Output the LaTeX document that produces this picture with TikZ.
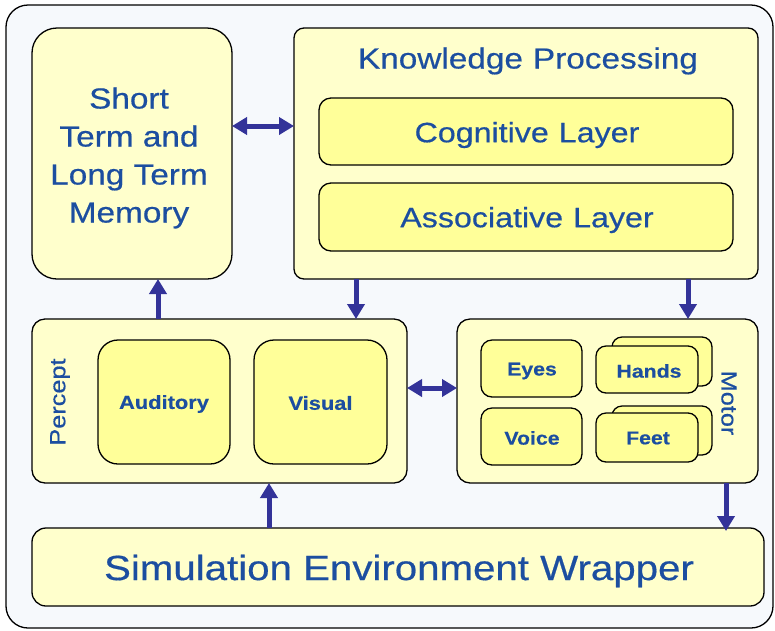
\documentclass[tikz,border=0pt]{standalone}
\usepackage{fontspec}
\setmainfont[FakeStretch=1.15,FakeBold=0.5]{Liberation Sans}
\usetikzlibrary{arrows.meta}
\definecolor{txtblue}{RGB}{28,78,160}
\definecolor{arrblue}{RGB}{51,51,153}
\definecolor{paleyel}{RGB}{255,255,204}
\definecolor{brightyel}{RGB}{255,255,153}
\definecolor{framebg}{RGB}{246,249,252}
\tikzset{
  box/.style={draw=black, line width=1.3pt, inner sep=0pt, outer sep=0pt},
  outerbox/.style={box, fill=paleyel},
  innerbox/.style={box, fill=brightyel},
  lbl/.style={text=txtblue, align=center, inner sep=0pt},
  arr/.style={draw=arrblue, line width=5pt, -{Triangle[length=15pt,width=17pt]}},
  darr/.style={draw=arrblue, line width=5pt, {Triangle[length=15pt,width=17pt]}-{Triangle[length=15pt,width=17pt]}},
}
\begin{document}
\begin{tikzpicture}[x=1pt,y=-1pt]
\useasboundingbox (0,0) rectangle (775,630);
% outer frame
\draw[line width=1.3pt, fill=framebg, rounded corners=22pt] (6,5) rectangle (773,628);

% memory
\node[outerbox, rounded corners=25pt, minimum width=200pt, minimum height=251pt] (mem) at (132,153.5) {};
\node[lbl, font=\fontsize{29}{38}\selectfont] (memt) at (129,158) {Short\\Term and\\Long Term\\Memory};

% knowledge processing
\node[outerbox, rounded corners=10pt, minimum width=464pt, minimum height=251pt] (kp) at (526,153.5) {};
\node[lbl, font=\fontsize{29}{34}\selectfont] (kpt) at (528,61) {Knowledge\hspace{10pt}Processing};
\node[innerbox, rounded corners=12pt, minimum width=414pt, minimum height=67pt] (cog) at (526,131.5) {};
\node[lbl, font=\fontsize{28}{34}\selectfont] (cogt) at (527,135) {Cognitive\hspace{10pt}Layer};
\node[innerbox, rounded corners=12pt, minimum width=414pt, minimum height=68pt] (assoc) at (526,217) {};
\node[lbl, font=\fontsize{28}{34}\selectfont] (assoct) at (527,220) {Associative\hspace{10pt}Layer};

% percept
\node[outerbox, rounded corners=13pt, minimum width=375pt, minimum height=164pt] (percept) at (219.5,401) {};
\node[lbl, rotate=90, font=\fontsize{22}{26}\selectfont] (perceptt) at (60,402) {Percept};
\node[innerbox, rounded corners=20pt, minimum width=132pt, minimum height=124pt] (aud) at (164,402) {};
\node[lbl, font=\bfseries\fontsize{19}{23}\selectfont] (audt) at (164,404) {Auditory};
\node[innerbox, rounded corners=20pt, minimum width=133pt, minimum height=124pt] (vis) at (320.5,402) {};
\node[lbl, font=\bfseries\fontsize{19}{23}\selectfont] (vist) at (320.5,403) {Visual};

% motor
\node[outerbox, rounded corners=13pt, minimum width=301pt, minimum height=164pt] (motor) at (607.5,401) {};
\node[lbl, rotate=-90, font=\fontsize{22}{26}\selectfont] (motort) at (729,403) {Motor};
\node[innerbox, rounded corners=11pt, minimum width=101pt, minimum height=57pt] (eyes) at (531.5,368.5) {};
\node[lbl, font=\bfseries\fontsize{18.5}{22}\selectfont] (eyest) at (532,371) {Eyes};
\node[innerbox, rounded corners=11pt, minimum width=101pt, minimum height=57pt] (voice) at (531.5,436.5) {};
\node[lbl, font=\bfseries\fontsize{18.5}{22}\selectfont] (voicet) at (532,438) {Voice};
\node[innerbox, rounded corners=10pt, minimum width=100pt, minimum height=49pt] (handsb) at (662,361.5) {};
\node[innerbox, rounded corners=10pt, minimum width=102pt, minimum height=47pt] (hands) at (647,369.5) {};
\node[lbl, font=\bfseries\fontsize{18.5}{22}\selectfont] (handst) at (649,371) {Hands};
\node[innerbox, rounded corners=10pt, minimum width=100pt, minimum height=49pt] (feetb) at (662,430.5) {};
\node[innerbox, rounded corners=10pt, minimum width=102pt, minimum height=49pt] (feet) at (647,437.5) {};
\node[lbl, font=\bfseries\fontsize{18.5}{22}\selectfont] (feett) at (648,438) {Feet};

% simulation
\node[outerbox, rounded corners=14pt, minimum width=732pt, minimum height=78pt] (sim) at (398,567) {};
\node[lbl, font=\fontsize{35}{40}\selectfont] (simt) at (399,571) {Simulation Environment Wrapper};

% helper coordinates
\coordinate (ymk) at (0,126);
\coordinate (ypm) at (0,388);
\coordinate (xmem) at (158,0);
\coordinate (xkp) at (356,0);
\coordinate (xkm) at (688,0);
\coordinate (xsp) at (269,0);
\coordinate (xms) at (726,0);

% connectors
\draw[darr] (mem.east |- ymk) -- (kp.west |- ymk);
\draw[darr] (percept.east |- ypm) -- (motor.west |- ypm);
\draw[arr] (percept.north -| xmem) -- (mem.south -| xmem);
\draw[arr] (kp.south -| xkp) -- (percept.north -| xkp);
\draw[arr] (kp.south -| xkm) -- (motor.north -| xkm);
\draw[arr] (sim.north -| xsp) -- (percept.south -| xsp);
\draw[arr] (motor.south -| xms) -- ([yshift=-3pt]sim.north -| xms);
\end{tikzpicture}
\end{document}
